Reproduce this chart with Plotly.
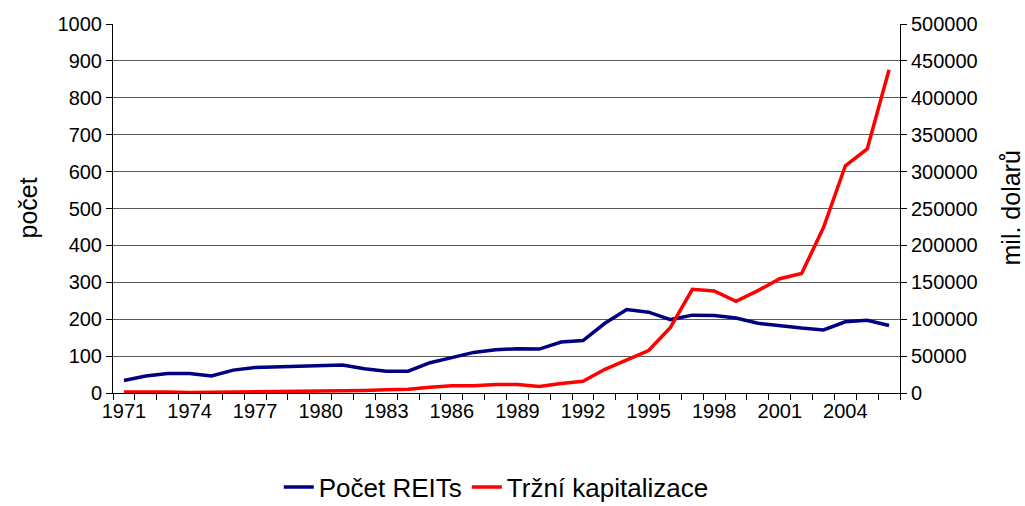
import plotly.graph_objects as go

years = list(range(1971, 2007))
pocet_reits = [34, 46, 53, 53, 46, 62, 69, 71, 71, 75, 76, 66, 59, 59, 82, 96, 110, 117, 120, 119,
               138, 142, 189, 226, 219, 199, 211, 210, 203, 189, 182, 176, 171, 193, 197, 183]
trzni_kap = [1494, 1881, 1394, 712, 900, 1308, 1528, 1412, 1754, 2299, 2439, 3299, 4257, 5085,
             7674, 9924, 9702, 11435, 11662, 8737, 12968, 15912, 32159, 44306, 57541, 88776,
             140534, 138301, 124262, 138715, 154899, 161937, 224212, 307895, 330691, 438071]
x_ticklabels = list(range(1971, 2005, 3))

FONT = "Liberation Sans, Arial, sans-serif"
TICKFONT = dict(family=FONT, size=20, color="black")

fig = go.Figure()
fig.add_trace(go.Scatter(x=years, y=pocet_reits, name="Počet REITs", mode="lines",
                         line=dict(color="#000080", width=3.5), yaxis="y"))
fig.add_trace(go.Scatter(x=years, y=trzni_kap, name="Tržní kapitalizace", mode="lines",
                         line=dict(color="#FF0000", width=3.5), yaxis="y2"))

fig.update_layout(
    width=1025, height=506,
    margin=dict(l=113, r=125, t=24, b=113, autoexpand=False),
    paper_bgcolor="white", plot_bgcolor="white",
    font=dict(family=FONT, size=20, color="black"),
    showlegend=True,
    legend=dict(orientation="h", x=0.487, xanchor="center", yref="container",
                y=(506 - 487) / 506, yanchor="middle", tracegroupgap=0,
                font=dict(family=FONT, size=26, color="black"), traceorder="normal"),
    xaxis=dict(range=[1970.5, 2006.5], tickmode="array", tickvals=x_ticklabels,
               ticktext=[str(v) for v in x_ticklabels], ticks="", showgrid=False,
               tickfont=TICKFONT,
               showline=True, linecolor="black", linewidth=1, zeroline=False,
               minor=dict(tick0=1970.5, dtick=1, ticks="outside", ticklen=6,
                          tickcolor="black", showgrid=False),
               fixedrange=True),
    yaxis=dict(range=[0, 1000], dtick=100, ticks="outside", ticklen=6, tickcolor="black",
               tickfont=TICKFONT,
               showline=True, linecolor="black", linewidth=1,
               showgrid=True, gridcolor="#5a5a5a", gridwidth=1, zeroline=False),
    yaxis2=dict(range=[0, 500000], dtick=50000, overlaying="y", side="right",
                tickformat="d", tickfont=TICKFONT,
                ticks="outside", ticklen=6, tickcolor="black",
                showline=True, linecolor="black", linewidth=1,
                showgrid=False, zeroline=False),
    annotations=[
        dict(text="počet", xref="paper", yref="paper", x=(27 - 113) / 787, y=0.5,
             textangle=-90, showarrow=False, font=dict(family=FONT, size=25, color="black"),
             xanchor="center", yanchor="middle"),
        dict(text="mil. dolarů", xref="paper", yref="paper", x=(1010 - 113) / 787, y=0.5,
             textangle=-90, showarrow=False, font=dict(family=FONT, size=25, color="black"),
             xanchor="center", yanchor="middle"),
    ],
)

fig.write_html("out.html", config={"displayModeBar": False},
               post_script="document.body.style.margin='0px';document.body.style.overflow='hidden';")
